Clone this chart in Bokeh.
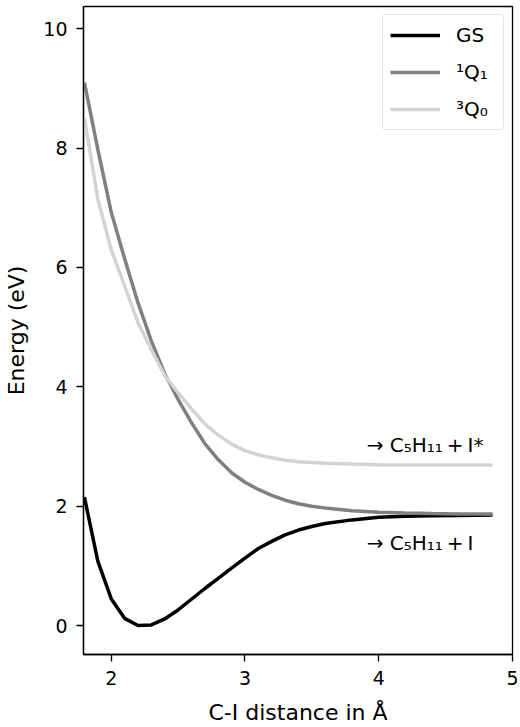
from bokeh.plotting import figure
from bokeh.models import Range1d, FixedTicker, Legend, LegendItem
from bokeh.core.properties import value
from bokeh.embed import file_html
from bokeh.resources import INLINE

# C-I distance (Angstrom)
distance = [1.8, 1.9, 2.0, 2.1, 2.2, 2.3, 2.4, 2.5, 2.6, 2.7, 2.8, 2.9, 3.0,
            3.1, 3.2, 3.3, 3.4, 3.5, 3.6, 3.8, 4.0, 4.2, 4.4, 4.6, 4.85]
# Energies (eV)
gs = [2.15, 1.08, 0.45, 0.12, 0.0, 0.01, 0.11, 0.26, 0.44, 0.62, 0.79, 0.96, 1.13,
      1.29, 1.41, 1.52, 1.60, 1.66, 1.71, 1.77, 1.815, 1.83, 1.84, 1.845, 1.85]
q1 = [9.10, 7.98, 6.93, 6.15, 5.41, 4.77, 4.22, 3.79, 3.40, 3.05, 2.78, 2.56, 2.40,
      2.28, 2.18, 2.10, 2.04, 2.00, 1.97, 1.925, 1.90, 1.885, 1.875, 1.87, 1.87]
q0 = [8.50, 7.15, 6.30, 5.69, 5.08, 4.62, 4.19, 3.90, 3.63, 3.38, 3.19, 3.04, 2.93,
      2.86, 2.81, 2.77, 2.745, 2.73, 2.72, 2.705, 2.695, 2.69, 2.69, 2.69, 2.69]

series_labels = ["GS", "\u00b9Q\u2081", "\u00b3Q\u2080"]
series_colors = ["#000000", "#808080", "#d3d3d3"]

x_ticks = [2, 3, 4, 5]
y_ticks = [0, 2, 4, 6, 8, 10]

x_title = "C-I distance in \u00c5"
y_title = "Energy (eV)"

asym_labels = ["\u2192 C\u2085H\u2081\u2081\u2009+\u2009I*", "\u2192 C\u2085H\u2081\u2081\u2009+\u2009I"]
asym_x = [3.91, 3.91]
asym_y = [3.02, 1.39]

FONT = "DejaVu Sans"

p = figure(width=520, height=727, output_backend="svg", toolbar_location=None,
           x_range=Range1d(1.793, 5.0), y_range=Range1d(-0.486, 10.374),
           min_border_left=83, min_border_right=8, min_border_top=6, min_border_bottom=73)
p.xgrid.visible = False
p.ygrid.visible = False
p.outline_line_color = "black"
p.outline_line_width = 1.3
p.background_fill_color = "white"
p.border_fill_color = "white"

for ax in (p.xaxis[0], p.yaxis[0]):
    ax.axis_line_color = "black"
    ax.axis_line_width = 1.3
    ax.major_tick_line_color = "black"
    ax.major_tick_line_width = 1.3
    ax.major_tick_in = 0
    ax.major_tick_out = 7
    ax.minor_tick_line_color = None
    ax.major_label_text_font = FONT
    ax.major_label_text_font_size = "19px"
    ax.major_label_text_color = "black"
    ax.axis_label_text_font = FONT
    ax.axis_label_text_font_size = "22px"
    ax.axis_label_text_font_style = "normal"
    ax.axis_label_text_color = "black"

p.xaxis[0].ticker = FixedTicker(ticks=x_ticks)
p.yaxis[0].ticker = FixedTicker(ticks=y_ticks)
p.xaxis[0].axis_label = x_title
p.yaxis[0].axis_label = y_title
p.xaxis[0].major_label_standoff = 9
p.yaxis[0].major_label_standoff = 9
p.xaxis[0].axis_label_standoff = 12
p.yaxis[0].axis_label_standoff = 11

renderers = []
for ys, col in zip([gs, q1, q0], series_colors):
    r = p.line(distance, ys, line_color=col, line_width=3.5)
    renderers.append(r)

p.text(x=asym_x, y=asym_y, text=asym_labels, text_font=value(FONT),
       text_font_size="20px", text_color="black", text_baseline="alphabetic",
       text_align="left")

legend = Legend(items=[LegendItem(label=l, renderers=[r]) for l, r in zip(series_labels, renderers)],
                location="top_right")
legend.margin = 8
legend.padding = 7
legend.spacing = 11
legend.label_height = 26
legend.glyph_height = 26
legend.glyph_width = 50
legend.label_standoff = 16
legend.label_width = 40
legend.label_text_font = FONT
legend.label_text_font_size = "20px"
legend.label_text_color = "black"
legend.border_line_color = "#cccccc"
legend.border_line_width = 1
legend.background_fill_alpha = 0.8
try:
    legend.border_radius = 4
except Exception:
    pass
p.add_layout(legend)

open("out.html", "w").write(file_html(p, INLINE))
